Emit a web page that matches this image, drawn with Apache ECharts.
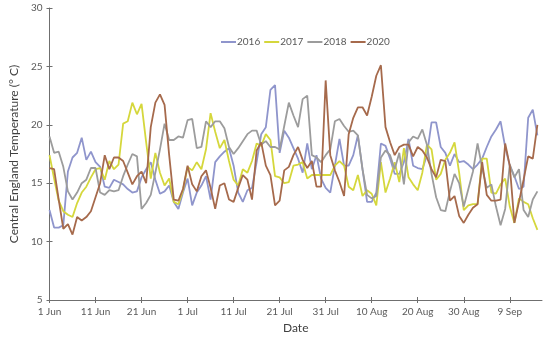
<!DOCTYPE html>
<html>
<head>
<meta charset="utf-8">
<script src="https://cdn.jsdelivr.net/npm/echarts@6/dist/echarts.min.js"></script>
<style>html,body{margin:0;padding:0;background:#fff}#c{width:550px;height:339px}</style>
</head>
<body>
<div id="c"></div>
<script>
// Category labels: daily dates 1 Jun .. 16 Sep
const months = [['Jun', 30], ['Jul', 31], ['Aug', 31], ['Sep', 16]];
const dates = [];
months.forEach(([m, n]) => { for (let d = 1; d <= n; d++) dates.push(d + ' ' + m); });

const yTicks = [5, 10, 15, 20, 25, 30];
const seriesNames = ['2016', '2017', '2018', '2020'];

const t2016 = [12.7, 11.2, 11.2, 11.4, 16.0, 17.2, 17.6, 18.9, 17.0, 17.7,
  16.8, 16.4, 14.7, 14.6, 15.3, 15.1, 14.9, 14.5, 14.2, 14.3,
  15.5, 16.2, 16.8, 15.3, 14.1, 14.3, 14.8, 13.4, 12.8, 14.2,
  15.4, 13.1, 14.2, 14.8, 15.6, 13.6, 16.8, 17.3, 17.7, 18.0,
  16.5, 14.2, 13.4, 14.4, 14.6, 16.8, 19.2, 19.8, 23.0, 23.4,
  17.6, 19.5, 18.9, 18.0, 17.1, 15.9, 18.4, 16.2, 17.4, 15.4,
  14.6, 14.2, 16.5, 18.8, 16.5, 16.5, 17.4, 19.1, 16.2, 13.4,
  13.4, 14.2, 18.4, 18.2, 17.1, 15.8, 15.8, 16.8, 18.8, 16.5,
  16.3, 16.2, 17.4, 20.2, 20.2, 18.1, 17.6, 16.5, 17.5, 16.8,
  16.9, 16.6, 16.2, 16.6, 17.1, 18.1, 19.0, 19.6, 20.3, 18.1,
  16.5, 15.6, 14.5, 14.7, 20.6, 21.3, 19.1];

const t2017 = [17.4, 15.4, 13.5, 12.6, 12.3, 12.1, 13.3, 14.2, 14.7, 15.5,
  16.2, 16.3, 15.3, 16.9, 16.2, 16.6, 20.1, 20.3, 21.9, 20.9,
  21.8, 18.5, 15.4, 17.6, 15.9, 14.8, 15.4, 13.4, 13.2, 14.4,
  16.4, 16.1, 16.8, 16.2, 17.9, 21.0, 19.4, 18.0, 18.7, 16.9,
  15.3, 14.8, 16.2, 15.9, 16.9, 18.4, 18.2, 19.2, 18.7, 15.6,
  15.5, 15.0, 15.1, 16.5, 16.6, 16.8, 15.4, 15.7, 15.7, 15.7,
  15.7, 15.7, 16.5, 16.9, 16.5, 14.7, 14.4, 15.7, 13.9, 14.4,
  14.1, 13.1, 16.8, 14.2, 15.4, 16.8, 15.1, 18.0, 15.5, 14.9,
  14.4, 15.9, 18.3, 17.9, 15.3, 15.8, 17.0, 17.6, 18.5, 15.9,
  12.7, 13.1, 13.2, 13.2, 17.1, 17.1, 14.2, 14.1, 14.9, 15.4,
  13.0, 11.6, 13.7, 13.4, 13.2, 12.0, 11.0];

const t2018 = [19.0, 17.6, 17.7, 16.4, 14.3, 13.6, 14.2, 15.0, 15.3, 16.3,
  16.3, 14.2, 14.0, 14.4, 14.3, 14.4, 15.6, 16.6, 17.5, 17.3,
  12.8, 13.3, 14.0, 15.9, 17.9, 20.1, 18.7, 18.7, 19.0, 18.9,
  20.4, 20.5, 18.0, 18.1, 20.3, 19.8, 20.3, 20.3, 19.7, 18.1,
  17.5, 18.0, 18.6, 19.2, 19.5, 19.5, 18.3, 18.6, 18.1, 18.1,
  17.9, 19.9, 21.9, 20.8, 19.8, 22.2, 22.5, 17.4, 17.2, 16.8,
  17.4, 17.9, 20.3, 20.5, 19.9, 19.4, 19.5, 19.1, 16.2, 14.0,
  13.7, 13.9, 17.2, 17.8, 17.4, 16.2, 17.6, 14.9, 18.5, 19.0,
  18.8, 19.6, 18.3, 15.8, 13.8, 12.7, 12.6, 14.3, 15.8, 15.0,
  13.0, 14.5, 16.0, 18.4, 16.3, 14.6, 14.9, 13.0, 11.4, 12.8,
  16.6, 15.5, 16.2, 12.7, 12.1, 13.6, 14.3];

const t2020 = [16.3, 16.2, 13.6, 11.1, 11.5, 10.6, 12.1, 11.8, 12.1, 12.6,
  13.8, 15.0, 17.4, 16.2, 17.2, 17.2, 16.9, 15.9, 14.9, 15.6,
  16.0, 15.0, 19.8, 21.9, 22.6, 21.7, 17.4, 13.6, 13.5, 14.5,
  16.5, 14.9, 14.3, 15.6, 16.1, 14.6, 12.8, 14.8, 15.0, 13.6,
  13.4, 14.6, 15.7, 15.3, 13.6, 17.8, 18.5, 16.5, 15.7, 13.1,
  13.5, 16.1, 16.4, 17.4, 18.1, 17.0, 16.3, 16.9, 14.7, 14.7,
  23.8, 17.4, 16.1, 15.1, 13.9, 19.2, 20.6, 21.5, 21.5, 20.8,
  22.4, 24.2, 25.1, 19.8, 18.5, 17.4, 18.1, 18.3, 18.3, 17.3,
  18.1, 17.8, 17.2, 16.2, 15.5, 17.0, 16.9, 13.5, 13.9, 12.2,
  11.6, 12.3, 12.9, 13.2, 16.8, 14.0, 13.5, 13.5, 13.6, 18.4,
  16.5, 11.6, 13.4, 15.3, 17.3, 17.1, 20.0];

const seriesData = [t2016, t2017, t2018, t2020];
const colors = ['#8f95cc', '#d5d73c', '#9c9c9c', '#a66a4c'];

const font = 'Lato, "Open Sans", sans-serif';
const axisColor = '#6f6f6f';
const textColor = '#595959';

const chart = echarts.init(document.getElementById('c'), null, { renderer: 'canvas' });
chart.setOption({
  animation: false,
  backgroundColor: '#fff',
  grid: { left: 40, right: 8, top: 8, bottom: 38, containLabel: false },
  legend: {
    data: seriesNames,
    left: 216, top: 32,
    itemWidth: 15, itemHeight: 2, itemGap: 4,
    icon: 'rect',
    textStyle: { color: textColor, fontSize: 10, fontFamily: font, padding: [0, 0, 0, -4] }
  },
  xAxis: [{
    type: 'category', data: dates, boundaryGap: false,
    name: 'Date', nameLocation: 'middle', nameGap: 22,
    nameTextStyle: { color: '#404040', fontSize: 12, fontFamily: font },
    axisLine: { lineStyle: { color: axisColor, width: 1 } },
    axisTick: { interval: 9, length: 3, lineStyle: { color: axisColor } },
    axisLabel: { interval: 9, color: textColor, fontSize: 10, fontFamily: font, margin: 7 },
    splitLine: { show: false }
  }, {
    type: 'category', data: dates, boundaryGap: false, position: 'bottom',
    axisLine: { show: false },
    axisTick: { inside: true, interval: 9, length: 3, lineStyle: { color: axisColor } },
    axisLabel: { show: false }, splitLine: { show: false }
  }],
  yAxis: [{
    type: 'value', min: yTicks[0], max: yTicks[yTicks.length - 1], interval: 5,
    name: 'Central England Temperature (° C)', nameLocation: 'middle', nameGap: 22,
    nameTextStyle: { color: '#404040', fontSize: 12, fontFamily: font },
    axisLine: { show: true, lineStyle: { color: axisColor, width: 1 } },
    axisTick: { show: true, length: 3, lineStyle: { color: axisColor } },
    axisLabel: { color: textColor, fontSize: 10, fontFamily: font, margin: 7 },
    splitLine: { show: false }
  }, {
    type: 'value', min: yTicks[0], max: yTicks[yTicks.length - 1], interval: 5, position: 'left',
    axisLine: { show: false },
    axisTick: { show: true, inside: true, length: 3, lineStyle: { color: axisColor } },
    axisLabel: { show: false }, splitLine: { show: false }
  }],
  series: seriesNames.map((n, i) => ({
    name: n, type: 'line', data: seriesData[i],
    xAxisIndex: 0, yAxisIndex: 0,
    showSymbol: false, symbol: 'none',
    lineStyle: { color: colors[i], width: 1.8 },
    itemStyle: { color: colors[i] },
    z: 2 + i
  }))
});
</script>
</body>
</html>
